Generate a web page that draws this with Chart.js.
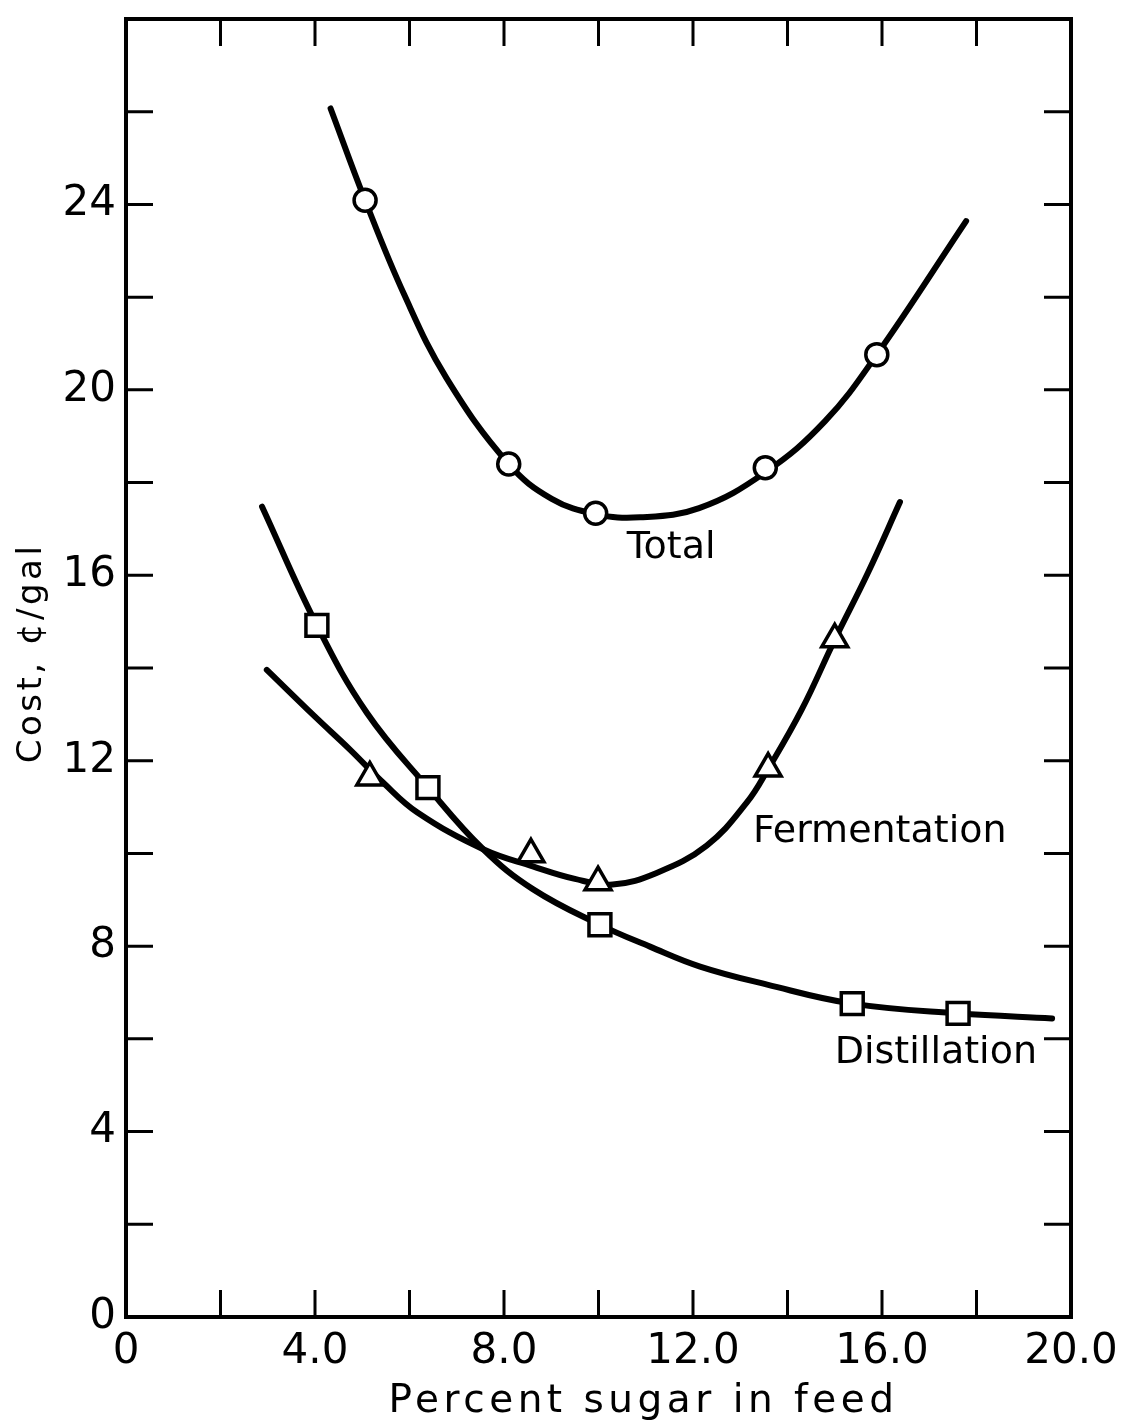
<!DOCTYPE html>
<html>
<head>
<meta charset="utf-8">
<script src="https://cdn.jsdelivr.net/npm/chart.js@4.4.1/dist/chart.umd.min.js"></script>
<style>
  html, body { margin: 0; padding: 0; background: #fff; }
  #wrap { width: 1137px; height: 1427px; }
</style>
</head>
<body>
<div id="wrap"><canvas id="c" width="1137" height="1427"></canvas></div>
<script>
// ---- data ----
const totalCurveX = [4.33, 5.06, 5.89, 6.78, 8.10, 9.01, 9.94, 10.88, 12.13, 13.53, 14.80, 15.89, 17.78];
const totalCurveY = [26.07, 24.09, 22.05, 20.26, 18.40, 17.65, 17.32, 17.25, 17.45, 18.22, 19.33, 20.76, 23.64];
const totalPtsX = [5.06, 8.10, 9.94, 13.53, 15.89];
const totalPtsY = [24.09, 18.40, 17.34, 18.32, 20.76];

const fermCurveX = [2.98, 4.0, 4.74, 5.44, 6.16, 7.56, 8.61, 9.50, 10.30, 11.23, 12.29, 13.14, 13.59, 14.30, 15.0, 15.70, 16.38];
const fermCurveY = [13.96, 12.95, 12.24, 11.53, 10.89, 10.09, 9.72, 9.45, 9.33, 9.58, 10.17, 11.10, 11.82, 13.10, 14.61, 16.05, 17.58];
const fermPtsX = [5.16, 8.57, 9.99, 13.59, 15.0];
const fermPtsY = [11.64, 9.98, 9.38, 11.83, 14.62];

const distCurveX = [2.88, 4.04, 5.10, 6.39, 7.56, 8.61, 10.03, 11.09, 12.15, 13.57, 15.37, 17.61, 19.6];
const distCurveY = [17.48, 14.92, 13.03, 11.42, 10.09, 9.23, 8.46, 7.99, 7.56, 7.17, 6.76, 6.55, 6.44];
const distPtsX = [4.04, 6.39, 10.03, 15.37, 17.61];
const distPtsY = [14.92, 11.42, 8.46, 6.76, 6.55];

const xTickValues = [0, 4, 8, 12, 16, 20];
const xTickLabels = ['0', '4.0', '8.0', '12.0', '16.0', '20.0'];
const yTickValues = [0, 4, 8, 12, 16, 20, 24];
const yTickLabels = ['0', '4', '8', '12', '16', '20', '24'];

const curveNames = ['Total', 'Fermentation', 'Distillation'];
const curveLabelX = [10.6, 13.27, 15.0];
const curveLabelY = [16.58, 10.46, 5.69];

// ---- helpers ----
const zip = (xs, ys) => xs.map((x, i) => ({ x: x, y: ys[i] }));
const FONT = "'DejaVu Sans', sans-serif";

const titleTweaks = {
  x: { letterSpacing: '4.5px', dx: 45, dy: 0 },
  y: { letterSpacing: '3.5px', dx: 0, dy: -15 }
};
const origDrawTitle = Chart.Scale.prototype.drawTitle;
Chart.Scale.prototype.drawTitle = function (area) {
  const t = titleTweaks[this.id] || {};
  const ctx = this.ctx;
  ctx.save();
  if (t.letterSpacing && 'letterSpacing' in ctx) ctx.letterSpacing = t.letterSpacing;
  ctx.translate(t.dx || 0, t.dy || 0);
  origDrawTitle.call(this, area);
  ctx.restore();
};

const framePlugin = {
  id: 'frame',
  afterDatasetsDraw(chart) {
    const ctx = chart.ctx;
    const a = chart.chartArea;
    const xs = chart.scales.x, ys = chart.scales.y;
    const L = 27;
    ctx.save();
    ctx.strokeStyle = '#000';
    ctx.lineWidth = 3;
    ctx.lineCap = 'butt';
    xs.ticks.forEach(t => {
      const px = xs.getPixelForValue(t.value);
      if (t.value <= xs.min || t.value >= xs.max) return;
      ctx.beginPath();
      ctx.moveTo(px, a.bottom); ctx.lineTo(px, a.bottom - L);
      ctx.moveTo(px, a.top); ctx.lineTo(px, a.top + L);
      ctx.stroke();
    });
    ys.ticks.forEach(t => {
      const py = ys.getPixelForValue(t.value);
      if (t.value <= ys.min || t.value >= ys.max) return;
      ctx.beginPath();
      ctx.moveTo(a.left, py); ctx.lineTo(a.left + L, py);
      ctx.moveTo(a.right, py); ctx.lineTo(a.right - L, py);
      ctx.stroke();
    });
    ctx.lineWidth = 4;
    ctx.strokeRect(a.left, a.top, a.right - a.left, a.bottom - a.top);
    // curve labels
    ctx.fillStyle = '#000';
    ctx.font = '38px ' + FONT;
    ctx.textAlign = 'left';
    ctx.textBaseline = 'middle';
    curveNames.forEach((n, i) => {
      ctx.fillText(n, xs.getPixelForValue(curveLabelX[i]), ys.getPixelForValue(curveLabelY[i]));
    });
    ctx.restore();
  }
};

const lineDs = (label, xs, ys) => ({
  label: label,
  data: zip(xs, ys),
  showLine: true,
  borderColor: '#000',
  borderWidth: 6,
  borderCapStyle: 'round',
  pointRadius: 0,
  tension: 0.4,
  fill: false,
  order: 2
});
const markDs = (label, xs, ys, style, r) => ({
  label: label,
  data: zip(xs, ys),
  showLine: false,
  pointStyle: style,
  pointRadius: r,
  pointBorderWidth: 3.5,
  pointBorderColor: '#000',
  pointBackgroundColor: '#fff',
  order: 1
});

new Chart(document.getElementById('c'), {
  type: 'scatter',
  data: {
    datasets: [
      lineDs('Total', totalCurveX, totalCurveY),
      lineDs('Fermentation', fermCurveX, fermCurveY),
      lineDs('Distillation', distCurveX, distCurveY),
      markDs('Total data', totalPtsX, totalPtsY, 'circle', 11),
      markDs('Fermentation data', fermPtsX, fermPtsY, 'triangle', 15),
      markDs('Distillation data', distPtsX, distPtsY, 'rect', 15.5)
    ]
  },
  options: {
    responsive: false,
    animation: false,
    devicePixelRatio: 1,
    layout: { padding: { top: 13, right: 66, left: 0, bottom: 0 } },
    plugins: { legend: { display: false }, tooltip: { enabled: false } },
    scales: {
      x: {
        type: 'linear', min: 0, max: 20,
        afterBuildTicks: s => { s.ticks = [0,2,4,6,8,10,12,14,16,18,20].map(v => ({ value: v })); },
        afterFit: s => { s.height = 110; s.paddingLeft = 0; s.paddingRight = 0; },
        grid: { display: false, drawTicks: false },
        border: { display: false },
        ticks: {
          autoSkip: false, maxRotation: 0, padding: 10, color: '#000',
          font: { family: FONT, size: 42 },
          callback: v => { const i = xTickValues.indexOf(v); return i >= 0 ? xTickLabels[i] : ''; }
        },
        title: {
          display: true, text: 'Percent sugar in feed', color: '#000',
          font: { family: FONT, size: 39 }, padding: { top: 0, bottom: 2 }
        }
      },
      y: {
        type: 'linear', min: 0, max: 28,
        afterBuildTicks: s => { s.ticks = [0,2,4,6,8,10,12,14,16,18,20,22,24,26,28].map(v => ({ value: v })); },
        afterFit: s => { s.width = 126; s.paddingTop = 0; s.paddingBottom = 0; },
        grid: { display: false, drawTicks: false },
        border: { display: false },
        ticks: {
          autoSkip: false, padding: 10, color: '#000',
          font: { family: FONT, size: 42 },
          callback: v => { const i = yTickValues.indexOf(v); return i >= 0 ? yTickLabels[i] : ''; }
        },
        title: {
          display: true, text: 'Cost, ¢/gal', color: '#000',
          font: { family: FONT, size: 34 }, padding: { top: 12, bottom: 0 }
        }
      }
    }
  },
  plugins: [framePlugin]
});
</script>
</body>
</html>
